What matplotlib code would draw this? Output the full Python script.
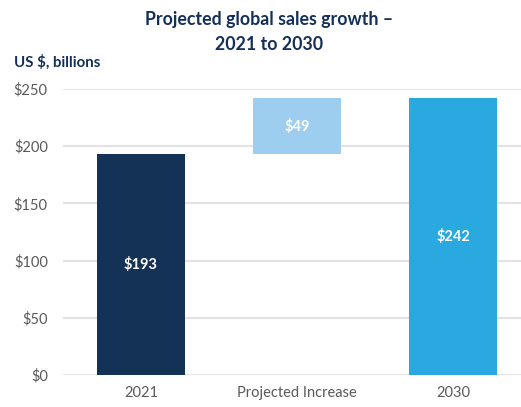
import matplotlib
matplotlib.use('Agg')
import matplotlib.pyplot as plt

categories = ['2021', 'Projected Increase', '2030']
totals = [193, 49, 242]
bottoms = [0, 193, 0]
labels = ['$193', '$49', '$242']
colors = ['#133256', '#9DCDEF', '#29A9DF']
yticks = [0, 50, 100, 150, 200, 250]

plt.rcParams['font.family'] = ['Lato', 'DejaVu Sans']

fig = plt.figure(figsize=(5.21, 4.07), dpi=100)
ax = fig.add_axes([63 / 521, 32 / 407, 468 / 521, 286 / 407])

x = range(len(categories))
bars = ax.bar(x, totals, bottom=bottoms, width=0.57, color=colors, zorder=3)
for b, lab, bot, h in zip(bars, labels, bottoms, totals):
    ax.text(b.get_x() + b.get_width() / 2, bot + h / 2, lab, ha='center', va='center',
            color='white', fontsize=10.5, fontweight='bold', zorder=4)

ax.set_xlim(-0.5, 2.5)
ax.set_ylim(0, 250)
ax.set_yticks(yticks)
ax.set_yticklabels(['${}'.format(v) for v in yticks])
ax.set_xticks(list(x))
ax.set_xticklabels(categories)
ax.tick_params(axis='both', length=0, labelsize=10.5, labelcolor='#595959')
ax.tick_params(axis='y', pad=11)
ax.tick_params(axis='x', pad=8)
ax.grid(axis='y', color='#E3E3E3', linewidth=1.5, zorder=0)
for s in ax.spines.values():
    s.set_visible(False)

fig.text(269 / 521, 1 - 20 / 407, 'Projected global sales growth \u2013', ha='center', va='center',
         fontsize=12.8, fontweight='bold', color='#14305A')
fig.text(269 / 521, 1 - 44 / 407, '2021 to 2030', ha='center', va='center',
         fontsize=12.8, fontweight='bold', color='#14305A')
fig.text(14 / 521, 1 - 62 / 407, 'US $, billions', ha='left', va='center',
         fontsize=10.8, fontweight='bold', color='#14305A')

fig.savefig('out.png', dpi=100)
